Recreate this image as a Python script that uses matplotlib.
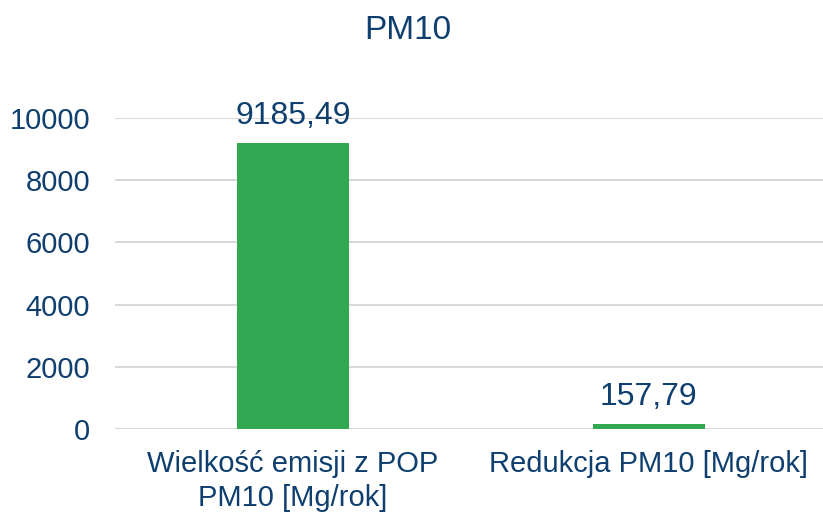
import matplotlib.pyplot as plt

categories = ["Wielkość emisji z POP\nPM10 [Mg/rok]", "Redukcja PM10 [Mg/rok]"]
values = [9185.49, 157.79]
value_labels = ["9185,49", "157,79"]
yticks = [0, 2000, 4000, 6000, 8000, 10000]

NAVY = "#0E3F6E"
GREEN = "#33A853"


def main():
    plt.rcParams['font.family'] = ['Liberation Sans', 'DejaVu Sans']
    fig = plt.figure(figsize=(8.23, 5.12), dpi=100)
    ax = fig.add_axes([0.140, 0.162, 0.864, 0.608])

    x = range(len(categories))
    bars = ax.bar(x, values, width=0.315, color=GREEN, zorder=3)
    for bar, lab in zip(bars, value_labels):
        ax.text(bar.get_x() + bar.get_width() / 2, bar.get_height() + 400, lab,
                ha='center', va='bottom', fontsize=23, color=NAVY)

    ax.set_xlim(-0.5, 1.5)
    ax.set_ylim(0, 10000)
    ax.set_yticks(yticks)
    ax.set_yticklabels([str(t) for t in yticks])
    ax.set_xticks(list(x))
    ax.set_xticklabels(categories, linespacing=1.3)
    ax.tick_params(axis='both', length=0, labelsize=21, labelcolor=NAVY)
    ax.tick_params(axis='y', pad=18)
    ax.tick_params(axis='x', pad=15)
    ax.grid(axis='y', color='#D9D9D9', linewidth=1.5, zorder=0)
    ax.set_axisbelow(True)
    for s in ax.spines.values():
        s.set_visible(False)

    fig.text(0.496, 0.94, "PM10", ha='center', va='center', fontsize=24, color=NAVY)
    fig.savefig("out.png", dpi=100)


if __name__ == "__main__":
    main()
